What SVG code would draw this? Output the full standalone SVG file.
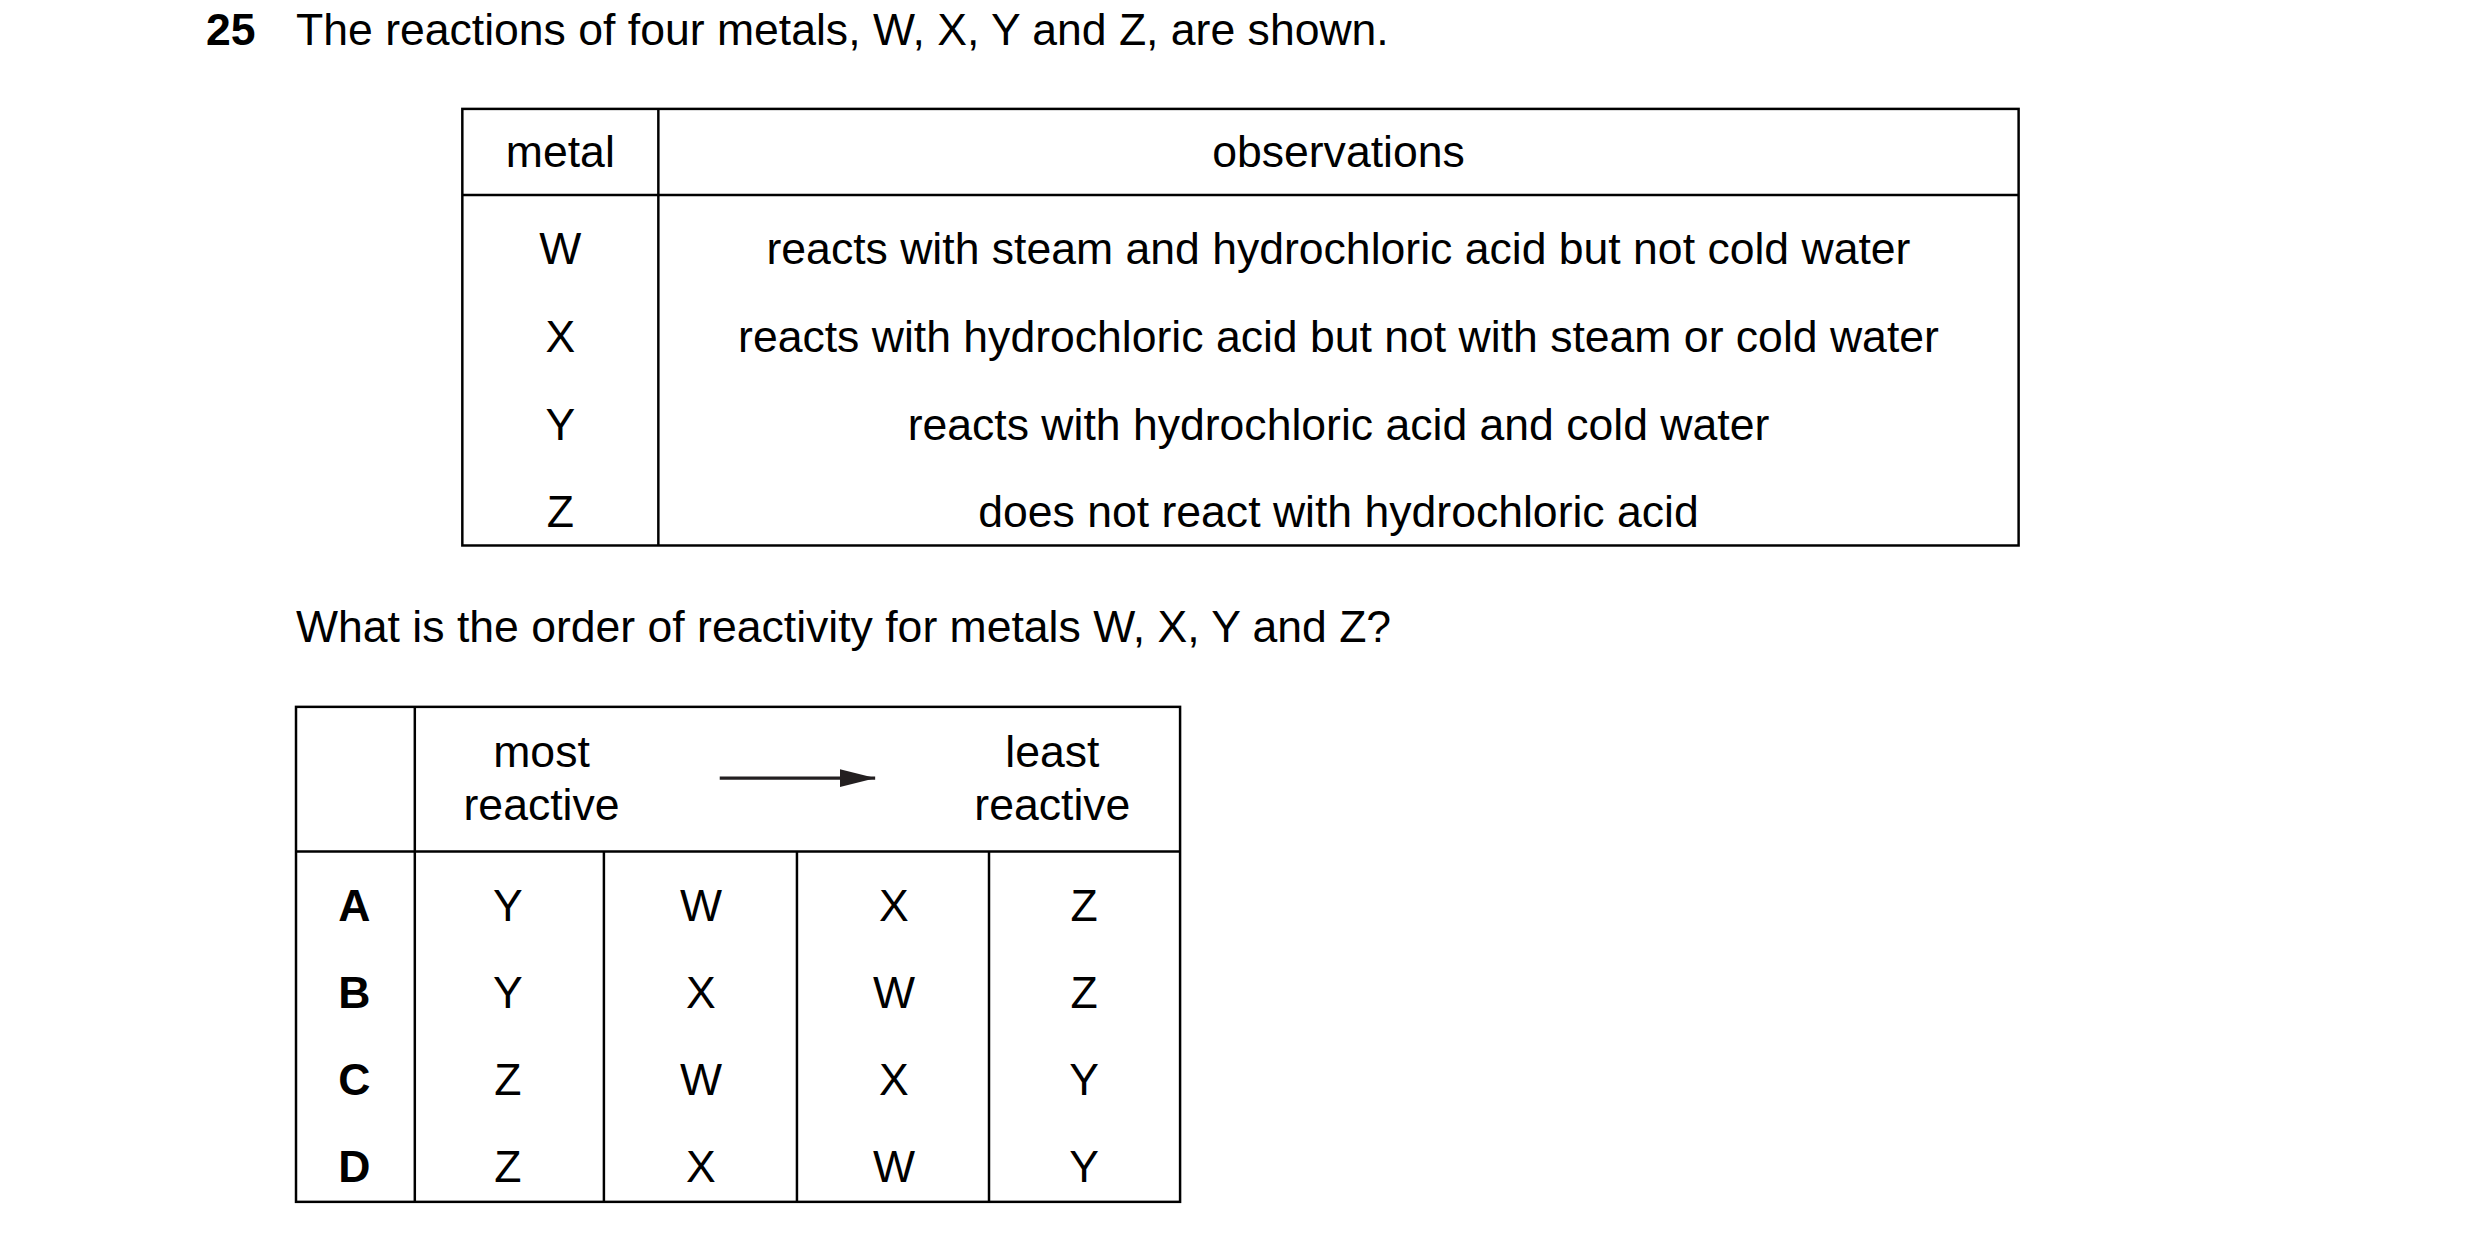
<svg xmlns="http://www.w3.org/2000/svg" width="2480" height="1243" viewBox="0 0 2480 1243">
<style>
text{font-family:"Liberation Sans",Arial,sans-serif;font-size:45px;fill:#000}
.c{text-anchor:middle}
.b{font-weight:bold}
.ln{stroke:#000;stroke-width:2.5;fill:none}
</style>
<defs><marker id="ah" markerWidth="36" markerHeight="18" refX="36" refY="9" orient="auto" markerUnits="userSpaceOnUse" viewBox="0 0 36 18"><path d="M0,0L36,9L0,18z" fill="#231f20"/></marker></defs>
<rect width="2480" height="1243" fill="#fff"/>
<g transform="scale(0.99)">
<text x="208" y="45" class="b">25</text>
<text x="299" y="45">The reactions of four metals, W, X, Y and Z, are shown.</text>
<g id="table1">
<rect x="467" y="110" width="1572" height="441" class="ln"/>
<line x1="665" y1="110" x2="665" y2="551" class="ln"/>
<line x1="467" y1="197" x2="2039" y2="197" class="ln"/>
<text x="566" y="169" class="c">metal</text>
<text x="1352" y="169" class="c">observations</text>
<text x="566" y="267" class="c">W</text>
<text x="1352" y="267" class="c">reacts with steam and hydrochloric acid but not cold water</text>
<text x="566" y="356" class="c">X</text>
<text x="1352" y="356" class="c">reacts with hydrochloric acid but not with steam or cold water</text>
<text x="566" y="444" class="c">Y</text>
<text x="1352" y="444" class="c">reacts with hydrochloric acid and cold water</text>
<text x="566" y="532" class="c">Z</text>
<text x="1352" y="532" class="c">does not react with hydrochloric acid</text>
</g>
<text x="299" y="649">What is the order of reactivity for metals W, X, Y and Z?</text>
<g id="table2">
<rect x="299" y="714" width="893" height="500" class="ln"/>
<line x1="419" y1="714" x2="419" y2="1214" class="ln"/>
<line x1="299" y1="860" x2="1192" y2="860" class="ln"/>
<line x1="610" y1="860" x2="610" y2="1214" class="ln"/>
<line x1="805" y1="860" x2="805" y2="1214" class="ln"/>
<line x1="999" y1="860" x2="999" y2="1214" class="ln"/>
<text x="547" y="775" class="c">most</text>
<text x="547" y="828" class="c">reactive</text>
<text x="1063" y="775" class="c">least</text>
<text x="1063" y="828" class="c">reactive</text>
<text x="358" y="930" class="c b">A</text><text x="513" y="930" class="c">Y</text><text x="708" y="930" class="c">W</text><text x="903" y="930" class="c">X</text><text x="1095" y="930" class="c">Z</text>
<text x="358" y="1018" class="c b">B</text><text x="513" y="1018" class="c">Y</text><text x="708" y="1018" class="c">X</text><text x="903" y="1018" class="c">W</text><text x="1095" y="1018" class="c">Z</text>
<text x="358" y="1106" class="c b">C</text><text x="513" y="1106" class="c">Z</text><text x="708" y="1106" class="c">W</text><text x="903" y="1106" class="c">X</text><text x="1095" y="1106" class="c">Y</text>
<text x="358" y="1194" class="c b">D</text><text x="513" y="1194" class="c">Z</text><text x="708" y="1194" class="c">X</text><text x="903" y="1194" class="c">W</text><text x="1095" y="1194" class="c">Y</text>
</g>
<g id="connectors">
<line x1="727" y1="786" x2="884" y2="786" stroke="#231f20" stroke-width="3.5" marker-end="url(#ah)"/>
</g>
</g>
</svg>
